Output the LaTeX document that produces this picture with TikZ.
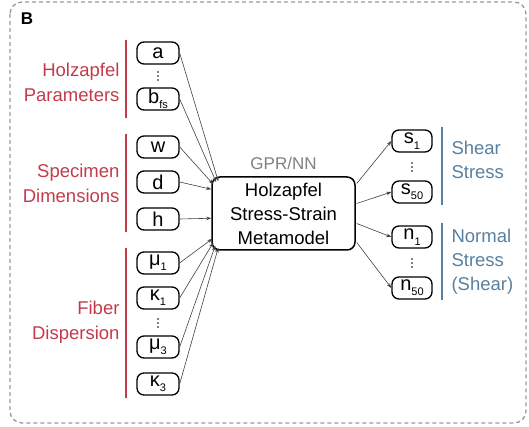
\documentclass[tikz,border=0pt]{standalone}
\usepackage{fontspec}
\setmainfont{Liberation Sans}
\usetikzlibrary{arrows.meta}
\definecolor{holzred}{RGB}{195,59,75}
\definecolor{stressblue}{RGB}{88,128,160}
\definecolor{gprgray}{RGB}{128,128,128}
\newcommand{\lowsub}[1]{\raisebox{-0.5ex}{\fontsize{11}{11}\selectfont #1}}
\tikzset{
  invar/.style={draw, line width=1.3pt, rounded corners=7pt, minimum width=42pt,
    minimum height=22pt, inner sep=1pt, font=\fontsize{20}{20}\selectfont},
  outvar/.style={invar, minimum width=40pt},
  vdots/.style={inner sep=0pt, minimum size=12pt},
  feed/.style={draw=black!75, line width=0.6pt, -{Stealth[length=5pt,width=3.5pt]}},
  redlbl/.style={text=holzred, align=right, anchor=east, font=\fontsize{18.5}{25}\selectfont},
  bluelbl/.style={text=stressblue, align=left, anchor=west, font=\fontsize{18.5}{24}\selectfont},
  redbar/.style={draw=holzred, line width=1.6pt},
  bluebar/.style={draw=stressblue, line width=1.6pt}
}
\begin{document}
\begin{tikzpicture}[x=1pt,y=-1pt]
  \useasboundingbox (0,0) rectangle (529,427);
  \draw [gray!80, line width=1.3pt, dash pattern=on 4pt off 3pt, rounded corners=12pt]
    (10,2) rectangle (526,423);
  \node [font=\fontsize{17}{17}\selectfont\bfseries] (panel) at (27,19) {B};

  % inputs
  \node [invar] (a) at (158,53) {a};
  \node [vdots] (dotsH) at (158,76) {};
  \node [invar] (bfs) at (158,99) {b\lowsub{fs}};
  \node [invar] (w) at (158,147) {w};
  \node [invar] (d) at (158,182) {d};
  \node [invar] (h) at (158,219) {h};
  \node [invar] (mu1) at (158,263) {μ\lowsub{1}};
  \node [invar] (ka1) at (158,298) {κ\lowsub{1}};
  \node [vdots] (dotsF) at (158,323) {};
  \node [invar] (mu3) at (158,347) {μ\lowsub{3}};
  \node [invar] (ka3) at (158,384) {κ\lowsub{3}};

  % group labels
  \draw [redbar] (126,40) -- (126,118);
  \draw [redbar] (126,134) -- (126,232);
  \draw [redbar] (126,248) -- (126,398);
  \node [redlbl] (holzlbl) at (123,82) {Holzapfel\\Parameters};
  \node [redlbl] (speclbl) at (123,183) {Specimen\\Dimensions};
  \node [redlbl] (fiberlbl) at (123,322) {Fiber\\Dispersion};

  % metamodel
  \node [draw, line width=1.5pt, rounded corners=8pt, minimum width=143pt, minimum height=73pt,
    align=center, font=\fontsize{18.5}{24}\selectfont] (main) at (283.5,213.5)
    {Holzapfel\\Stress-Strain\\Metamodel};
  \node [text=gprgray, font=\fontsize{17}{17}\selectfont] (gpr) at (283.5,163) {GPR/NN};

  % outputs
  \node [outvar] (s1) at (412,141) {s\lowsub{1}};
  \node [vdots] (dotsS) at (412,167) {};
  \node [outvar] (s50) at (412,192) {s\lowsub{50}};
  \node [outvar] (n1) at (412,237) {n\lowsub{1}};
  \node [vdots] (dotsN) at (412,263) {};
  \node [outvar] (n50) at (412,288) {n\lowsub{50}};
  \draw [bluebar] (442,127) -- (442,205);
  \draw [bluebar] (442,223) -- (442,300);
  \node [bluelbl] (shearlbl) at (448,160) {Shear\\Stress};
  \node [bluelbl] (normlbl) at (448,262) {Normal\\Stress\\(Shear)};

  % vertical dots
  \foreach \n in {dotsH,dotsF,dotsS,dotsN}
    \foreach \dy in {-4,0,4}
      \fill ([yshift=\dy]\n.center) circle [radius=0.9pt];

  % connectors
  \draw [feed] (a.east) -- ([shift={(7,5)}]main.north west);
  \draw [feed] (bfs.east) -- ([shift={(5,6)}]main.north west);
  \draw [feed] (w.east) -- ([shift={(2,8)}]main.north west);
  \draw [feed] (d.east) -- ([shift={(0,13)}]main.north west);
  \draw [feed] (h.east) -- ([shift={(0,42)}]main.north west);
  \draw [feed] (mu1.east) -- ([shift={(1,-12)}]main.south west);
  \draw [feed] (ka1.east) -- ([shift={(2,-8)}]main.south west);
  \draw [feed] (mu3.east) -- ([shift={(4,-5)}]main.south west);
  \draw [feed] (ka3.east) -- ([shift={(7,-3)}]main.south west);
  \draw [feed] ([shift={(1,-30)}]main.east) -- (s1.west);
  \draw [feed] ([shift={(1,-10)}]main.east) -- (s50.west);
  \draw [feed] ([shift={(1,10)}]main.east) -- (n1.west);
  \draw [feed] ([shift={(1,29)}]main.east) -- (n50.west);
\end{tikzpicture}
\end{document}
